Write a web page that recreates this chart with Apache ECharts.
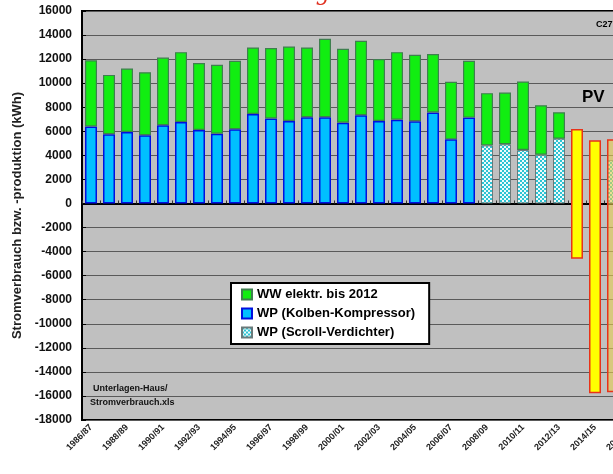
<!DOCTYPE html>
<html>
<head>
<meta charset="utf-8">
<script src="https://cdn.jsdelivr.net/npm/echarts@6/dist/echarts.min.js"></script>
<style>
  html, body { margin: 0; padding: 0; overflow: hidden; background: #fff; }
  #chart { width: 700px; height: 474px; }
</style>
</head>
<body>
<div id="chart"></div>
<script>
// Kategorien (Heizperioden)
const categories = [
  '1986/87', '1987/88', '1988/89', '1989/90', '1990/91', '1991/92', '1992/93', '1993/94',
  '1994/95', '1995/96', '1996/97', '1997/98', '1998/99', '1999/00', '2000/01', '2001/02',
  '2002/03', '2003/04', '2004/05', '2005/06', '2006/07', '2007/08', '2008/09', '2009/10',
  '2010/11', '2011/12', '2012/13', '2013/14', '2014/15', '2015/16', '2016/17', '2017/18'
];

// WP (Kolben-Kompressor)
const kolben = [
  6400, 5750, 5940, 5670, 6500, 6780, 6110, 5800,
  6170, 7440, 7060, 6860, 7170, 7170, 6720, 7330,
  6850, 6970, 6830, 7560, 5330, 7140, null, null,
  null, null, null, null, null, null, null, null
];

// WP (Scroll-Verdichter)
const scroll = [
  null, null, null, null, null, null, null, null,
  null, null, null, null, null, null, null, null,
  null, null, null, null, null, null, 4830, 4920,
  4440, 4050, 5390, null, null, 3600, null, null
];

// WW elektr. bis 2012
const ww = [
  5500, 4940, 5280, 5240, 5630, 5800, 5560, 5730,
  5690, 5530, 5860, 6190, 5800, 6520, 6140, 6200,
  5150, 5610, 5530, 4860, 4780, 4720, 4340, 4300,
  5700, 4120, 2190, null, null, null, null, null
];

// PV: Balken von Oberkante bis Unterkante
const pvTop = [
  null, null, null, null, null, null, null, null,
  null, null, null, null, null, null, null, null,
  null, null, null, null, null, null, null, null,
  null, null, null, 6200, 5250, 5330, null, null
];
const pvBottom = [
  null, null, null, null, null, null, null, null,
  null, null, null, null, null, null, null, null,
  null, null, null, null, null, null, null, null,
  null, null, null, -4600, -15780, -15700, null, null
];

const yTicks = { min: -18000, max: 16000, step: 2000 };

// Muster für Scroll-Verdichter
const makePattern = () => {
  const c = document.createElement('canvas');
  c.width = 4;
  c.height = 4;
  const ctx = c.getContext('2d');
  ctx.fillStyle = '#eefafa';
  ctx.fillRect(0, 0, 4, 4);
  ctx.fillStyle = '#2cc4d4';
  ctx.fillRect(0, 0, 2, 2);
  ctx.fillRect(2, 2, 2, 2);
  return c;
};

const myChart = echarts.init(document.getElementById('chart'));

const pvBase = pvBottom.map(v => (v == null ? null : v));
const pvSpan = pvTop.map((t, i) => {
  if (t == null) return null;
  const h = t - pvBottom[i];
  // letzter Balken halbtransparent (Scroll-Balken scheint durch)
  if (i === 29) {
    return { value: h, itemStyle: { color: 'rgba(232,205,80,0.6)' } };
  }
  return h;
});

const boldFont = 'Liberation Sans, Arial, sans-serif';

const option = {
  animation: false,
  backgroundColor: '#ffffff',
  grid: {
    left: 82,
    top: 11,
    bottom: 54,
    width: 576,
    show: true,
    backgroundColor: '#c0c0c0',
    borderColor: '#000',
    borderWidth: 2
  },
  legend: {
    data: ['WW elektr. bis 2012', 'WP (Kolben-Kompressor)', 'WP (Scroll-Verdichter)'],
    orient: 'vertical',
    left: 231,
    top: 283,
    backgroundColor: '#ffffff',
    borderColor: '#000',
    borderWidth: 2,
    borderRadius: 0,
    padding: [5, 14, 5, 10],
    itemWidth: 10,
    itemHeight: 10,
    itemGap: 6,
    icon: 'rect',
    selectedMode: false,
    textStyle: {
      fontFamily: boldFont,
      fontWeight: 'bold',
      fontSize: 13,
      color: '#000'
    }
  },
  xAxis: {
    type: 'category',
    data: categories,
    axisLine: { lineStyle: { color: '#000', width: 2 } },
    axisTick: { show: true, interval: 0, inside: true, length: 3, lineStyle: { color: '#333' } },
    axisLabel: {
      interval: 1,
      rotate: 45,
      margin: 6,
      fontFamily: boldFont,
      fontWeight: 'bold',
      fontSize: 9,
      color: '#222'
    },
    splitLine: { show: false }
  },
  yAxis: {
    type: 'value',
    min: yTicks.min,
    max: yTicks.max,
    interval: yTicks.step,
    name: 'Stromverbrauch bzw. -produktion (kWh)',
    nameLocation: 'middle',
    nameGap: 58,
    nameTextStyle: {
      fontFamily: boldFont,
      fontWeight: 'bold',
      fontSize: 13,
      color: '#222'
    },
    axisLine: { show: true, lineStyle: { color: '#000', width: 2 } },
    axisTick: { show: true, length: 4, inside: true, lineStyle: { color: '#000' } },
    axisLabel: {
      margin: 10,
      fontFamily: boldFont,
      fontWeight: 'bold',
      fontSize: 12,
      color: '#111',
      formatter: v => String(v)
    },
    splitLine: { show: true, lineStyle: { color: '#5a5a5a', width: 1.2 } }
  },
  graphic: [
    {
      type: 'text', left: 262, top: -17, silent: true,
      style: { text: 'Energie', fill: '#e03020', font: 'italic 22px "DejaVu Serif", serif' }
    },
    {
      type: 'text', left: 596, top: 20, silent: true,
      style: { text: 'C277', fill: '#000', font: 'bold 9px ' + boldFont }
    },
    {
      type: 'text', left: 582, top: 89, silent: true,
      style: { text: 'PV', fill: '#000', font: 'bold 17px ' + boldFont }
    },
    {
      type: 'text', left: 93, top: 384, silent: true,
      style: { text: 'Unterlagen-Haus/', fill: '#111', font: 'bold 9px ' + boldFont }
    },
    {
      type: 'text', left: 90, top: 398, silent: true,
      style: { text: 'Stromverbrauch.xls', fill: '#111', font: 'bold 9px ' + boldFont }
    }
  ],
  series: [
    {
      name: 'WP (Kolben-Kompressor)',
      type: 'bar',
      stack: 'verbrauch',
      barWidth: 12,
      barGap: '-100%',
      itemStyle: { color: '#00c0ff', borderColor: '#0010e0', borderWidth: 1.5 },
      data: kolben
    },
    {
      name: 'WP (Scroll-Verdichter)',
      type: 'bar',
      stack: 'verbrauch',
      barWidth: 12,
      barGap: '-100%',
      itemStyle: {
        color: { image: makePattern(), repeat: 'repeat' },
        borderColor: '#6a7a7a',
        borderWidth: 1
      },
      data: scroll
    },
    {
      name: 'WW elektr. bis 2012',
      type: 'bar',
      stack: 'verbrauch',
      barWidth: 12,
      barGap: '-100%',
      itemStyle: { color: '#11ee11', borderColor: '#3f7f4f', borderWidth: 1.2 },
      data: ww
    },
    {
      name: 'pvBase',
      type: 'bar',
      stack: 'pv',
      stackStrategy: 'all',
      barWidth: 12,
      barGap: '-100%',
      silent: true,
      itemStyle: { color: 'rgba(0,0,0,0)', borderWidth: 0 },
      data: pvBase
    },
    {
      name: 'PV',
      type: 'bar',
      stack: 'pv',
      stackStrategy: 'all',
      barWidth: 12,
      barGap: '-100%',
      z: 3,
      itemStyle: { color: '#ffff00', borderColor: '#e8321a', borderWidth: 1.5 },
      data: pvSpan
    }
  ]
};

option && myChart.setOption(option);
</script>
</body>
</html>
